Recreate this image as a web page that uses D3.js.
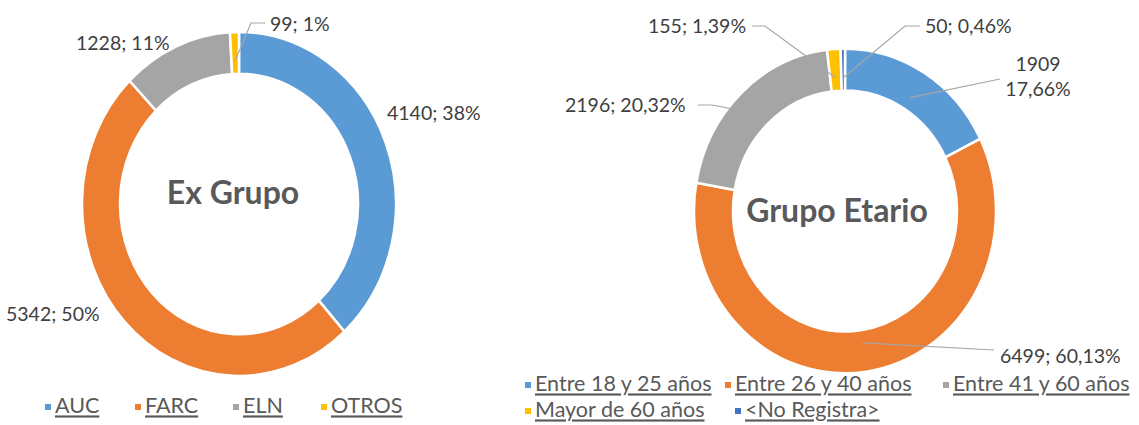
<!DOCTYPE html>
<html>
<head>
<meta charset="utf-8">
<script src="https://cdn.jsdelivr.net/npm/d3@7"></script>
<style>
  body { margin: 0; background: #fff; }
  text { font-family: Lato, "Open Sans", sans-serif; }
</style>
</head>
<body>
<div id="chart"></div>
<script>
// Ex Grupo
var grupoCats = ["AUC", "FARC", "ELN", "OTROS"];
var grupoVals = [4140, 5342, 1228, 99];
var grupoLabels = ["4140; 38%", "5342; 50%", "1228; 11%", "99; 1%"];
var grupoColors = ["#5b9bd5", "#ed7d31", "#a5a5a5", "#ffc000"];

// Grupo Etario
var edadCats = ["Entre 18 y 25 años", "Entre 26 y 40 años", "Entre 41 y 60 años", "Mayor de 60 años", "<No Registra>"];
var edadVals = [1909, 6499, 2196, 155, 50];
var edadLabels = [["1909", "17,66%"], ["6499; 60,13%"], ["2196; 20,32%"], ["155; 1,39%"], ["50; 0,46%"]];
var edadColors = ["#5b9bd5", "#ed7d31", "#a5a5a5", "#ffc000", "#4472c4"];

function init() {
    var w = 1139;
    var h = 425;

    var svg = d3.select("#chart")
            .append("svg")
            .attr("width", w)
            .attr("height", h);

    var pie = d3.pie().sort(null);

    function donut(opts) {
        var arc = d3.arc().innerRadius(opts.r0).outerRadius(opts.r1);
        var g = svg.append("g")
            .attr("transform", "translate(" + opts.cx + "," + opts.cy + ") scale(1," + opts.sy + ")");
        var arcs = pie(opts.values);
        g.selectAll("path")
            .data(arcs)
            .enter()
            .append("path")
            .attr("d", arc)
            .style("fill", function(d, i) { return opts.colors[i]; })
            .style("stroke", "#fff")
            .style("stroke-width", 2.5)
            .attr("vector-effect", "non-scaling-stroke");

        // point inside the ring for leader lines, in page coords
        var mid = d3.arc().innerRadius(opts.r0 + 12).outerRadius(opts.r0 + 12);
        var pts = arcs.map(function(d) {
            var c = mid.centroid(d);
            return [opts.cx + c[0], opts.cy + c[1] * opts.sy];
        });

        svg.append("text")
            .attr("x", opts.cx + opts.titleDx)
            .attr("y", opts.cy + opts.titleDy)
            .attr("text-anchor", "middle")
            .attr("dominant-baseline", "central")
            .style("font-size", "32px")
            .style("font-weight", "bold")
            .style("fill", "#595959")
            .text(opts.title);
        return pts;
    }

    function label(lines, x, y, anchor) {
        var t = svg.append("text")
            .attr("x", x)
            .attr("y", y)
            .attr("text-anchor", anchor)
            .style("font-size", "19.5px")
            .style("fill", "#404040");
        lines.forEach(function(s, i) {
            t.append("tspan").attr("x", x).attr("dy", i === 0 ? 0 : 25).text(s);
        });
    }

    function leader(points) {
        svg.append("path")
            .attr("d", d3.line()(points))
            .style("fill", "none")
            .style("stroke", "#a6a6a6")
            .style("stroke-width", 1.2);
    }

    // left doughnut
    var p1 = donut({cx: 239, cy: 204, r0: 119, r1: 157, sy: 1.095,
        values: grupoVals, colors: grupoColors, title: "Ex Grupo", titleDx: -6, titleDy: -13});
    label([grupoLabels[0]], 387, 120, "start");
    label([grupoLabels[1]], 6, 321, "start");
    label([grupoLabels[2]], 76, 50, "start");
    label([grupoLabels[3]], 270, 31, "start");
    leader([p1[3], [251, 23], [265, 23]]);

    // right doughnut
    var p2 = donut({cx: 845, cy: 211, r0: 112, r1: 151, sy: 1.075,
        values: edadVals, colors: edadColors, title: "Grupo Etario", titleDx: -8, titleDy: -2});
    label(edadLabels[0], 1038, 71, "middle");
    label(edadLabels[1], 1000, 363, "start");
    label(edadLabels[2], 565, 112, "start");
    label(edadLabels[3], 648, 33, "start");
    label(edadLabels[4], 925, 33, "start");
    leader([p2[0], [1000, 79]]);
    leader([p2[1], [994, 350]]);
    leader([p2[2], [712, 105], [698, 105]]);
    leader([p2[3], [765, 26], [752, 26]]);
    leader([p2[4], [905, 26], [920, 26]]);

    // legends
    function legend(items, colors) {
        items.forEach(function(it) {
            var i = it.i;
            var g = svg.append("g").attr("transform", "translate(" + it.x + "," + it.y + ")");
            g.append("rect")
                .attr("x", 0).attr("y", -4)
                .attr("width", 6).attr("height", 6)
                .style("fill", colors[i]);
            g.append("text")
                .attr("x", 10).attr("y", 0)
                .attr("dominant-baseline", "middle")
                .style("font-size", "21.5px")
                .style("fill", "#595959")
                .style("text-decoration", "underline")
                .text(it.text);
        });
    }

    legend(grupoCats.map(function(c, i) {
        return {i: i, text: c, x: [45, 135, 233, 321][i], y: 408};
    }), grupoColors);

    legend(edadCats.map(function(c, i) {
        return {i: i, text: c, x: [525, 725, 943, 525, 735][i], y: i < 3 ? 386 : 412};
    }), edadColors);
}

window.onload = init;
</script>
</body>
</html>
